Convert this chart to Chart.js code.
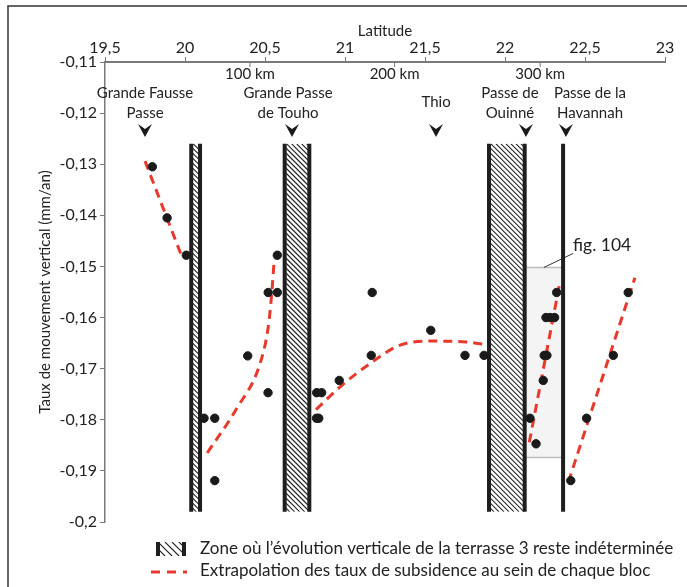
<!DOCTYPE html>
<html>
<head>
<meta charset="utf-8">
<script src="https://cdn.jsdelivr.net/npm/chart.js@4.4.1/dist/chart.umd.min.js"></script>
<style>
body { margin: 0; background: #fff; }
</style>
</head>
<body>
<canvas id="chart" width="687" height="587"></canvas>
<script>
// measured sites: latitude / vertical rate (mm/an)
var siteLat = [19.796, 19.888, 20.008, 20.119, 20.186, 20.186, 20.392, 20.519, 20.52, 20.577, 20.577,
  20.823, 20.854, 20.822, 20.836, 20.964, 21.164, 21.17, 21.536, 21.75, 21.869,
  22.156, 22.194, 22.239, 22.245, 22.262, 22.256, 22.281, 22.31, 22.323,
  22.411, 22.51, 22.677, 22.77];
var siteRate = [-0.1305, -0.1405, -0.1478, -0.1797, -0.1797, -0.1919, -0.1675, -0.1747, -0.1551, -0.1551, -0.1478,
  -0.1747, -0.1747, -0.1797, -0.1797, -0.1723, -0.1674, -0.1551, -0.1625, -0.1674, -0.1674,
  -0.1797, -0.1847, -0.1723, -0.1674, -0.1674, -0.16, -0.16, -0.16, -0.1551,
  -0.1919, -0.1797, -0.1674, -0.1551];

// extrapolation within each block
var extLat = [
  [19.75, 19.983],
  [20.139, 20.323, 20.469, 20.52, 20.542, 20.558],
  [20.819, 20.979, 21.156, 21.344, 21.55, 21.76, 21.864],
  [22.152, 22.339],
  [22.396, 22.812]
];
var extRate = [
  [-0.1294, -0.1483],
  [-0.1865, -0.1778, -0.169, -0.1619, -0.1553, -0.1485],
  [-0.178, -0.1733, -0.169, -0.1654, -0.1646, -0.1648, -0.1652],
  [-0.1844, -0.1538],
  [-0.1922, -0.1522]
];

// undetermined zones (hatched) and block limits
var zoneFrom = [20.039, 20.623, 21.9];
var zoneTo = [20.094, 20.777, 22.123];
var limitLat = [22.363];
var zoneRate = [-0.126, -0.198];

// fig. 104 inset
var insetLat = [22.123, 22.363];
var insetRate = [-0.1502, -0.1874];

// passes
var passNames = [["Grande Fausse", "Passe"], ["Grande Passe", "de Touho"], ["Thio"], ["Passe de", "Ouinné"], ["Passe de la", "Havannah"]];
var passLabelLat = [19.75, 20.644, 21.569, 22.031, 22.531];
var passArrowLat = [19.75, 20.669, 21.569, 22.131, 22.381];

// distance along coast
var kmLabels = ["100 km", "200 km", "300 km"];
var kmLat = [20.406, 21.31, 22.22];

var FONT = "Lato";
var RED = "#e8392d";
var AXIS = "#7a7a7a";

function comma(v) {
  return String(Math.round(v * 1000) / 1000).replace(".", ",");
}

function hatch(ctx, x0, y0, w, h, step) {
  ctx.save();
  ctx.beginPath();
  ctx.rect(x0, y0, w, h);
  ctx.clip();
  ctx.strokeStyle = "#222";
  ctx.lineWidth = 1.1;
  ctx.beginPath();
  for (var k = x0 - h; k < x0 + w; k += step) {
    ctx.moveTo(k, y0);
    ctx.lineTo(k + h, y0 + h);
  }
  ctx.stroke();
  ctx.restore();
}

function vline(ctx, x, y1, y2) {
  ctx.beginPath();
  ctx.moveTo(x, y1);
  ctx.lineTo(x, y2);
  ctx.stroke();
}

var decor = {
  id: "decor",
  beforeDatasetsDraw: function(chart) {
    var ctx = chart.ctx, sx = chart.scales.x, sy = chart.scales.y;
    ctx.save();
    // inset box
    var bx1 = sx.getPixelForValue(insetLat[0]), bx2 = sx.getPixelForValue(insetLat[1]);
    var by1 = sy.getPixelForValue(insetRate[0]), by2 = sy.getPixelForValue(insetRate[1]);
    ctx.fillStyle = "#f4f4f4";
    ctx.fillRect(bx1, by1, bx2 - bx1, by2 - by1);
    ctx.strokeStyle = "#bdbdbd";
    ctx.lineWidth = 1.5;
    ctx.beginPath();
    ctx.moveTo(bx1, by1); ctx.lineTo(bx2, by1);
    ctx.moveTo(bx1, by2); ctx.lineTo(bx2, by2);
    ctx.stroke();
    ctx.strokeStyle = "#333";
    ctx.lineWidth = 1;
    ctx.beginPath();
    ctx.moveTo((bx1 + bx2) / 2, by1);
    ctx.lineTo(bx2 + 10, by1 - 14);
    ctx.stroke();
    ctx.fillStyle = "#222";
    ctx.font = "17.5px " + FONT;
    ctx.textBaseline = "middle";
    ctx.textAlign = "left";
    ctx.fillText("fig. 104", bx2 + 10, by1 - 22);

    // hatched zones
    var top = sy.getPixelForValue(zoneRate[0]), bot = sy.getPixelForValue(zoneRate[1]);
    ctx.strokeStyle = "#1e1e1e";
    for (var i = 0; i < zoneFrom.length; i++) {
      var l = sx.getPixelForValue(zoneFrom[i]), r = sx.getPixelForValue(zoneTo[i]);
      hatch(ctx, l, top, r - l, bot - top, 5);
      ctx.strokeStyle = "#1e1e1e";
      ctx.lineWidth = 4;
      vline(ctx, l, top, bot);
      vline(ctx, r, top, bot);
    }
    for (var j = 0; j < limitLat.length; j++) {
      vline(ctx, sx.getPixelForValue(limitLat[j]), top, bot);
    }
    ctx.restore();
  },
  afterDraw: function(chart) {
    var ctx = chart.ctx, sx = chart.scales.x, area = chart.chartArea;
    ctx.save();
    // frame
    ctx.strokeStyle = "#333";
    ctx.lineWidth = 1.5;
    ctx.beginPath();
    ctx.moveTo(8, chart.height);
    ctx.lineTo(8, 6);
    ctx.lineTo(chart.width, 6);
    ctx.stroke();

    // km ticks under the axis
    ctx.strokeStyle = AXIS;
    ctx.lineWidth = 1;
    ctx.fillStyle = "#222";
    ctx.font = "15px " + FONT;
    ctx.textAlign = "center";
    ctx.textBaseline = "middle";
    for (var i = 0; i < kmLat.length; i++) {
      var kx = sx.getPixelForValue(kmLat[i]);
      vline(ctx, kx, area.top, area.top + 5);
      ctx.fillText(kmLabels[i], kx, area.top + 12);
    }

    // passes
    for (var p = 0; p < passNames.length; p++) {
      var lx = sx.getPixelForValue(passLabelLat[p]);
      var lines = passNames[p];
      for (var k = 0; k < lines.length; k++) {
        var ly = lines.length == 1 ? 102 : 93 + k * 20;
        ctx.fillText(lines[k], lx, ly);
      }
      var ax = sx.getPixelForValue(passArrowLat[p]);
      ctx.fillStyle = "#1a1a1a";
      ctx.beginPath();
      ctx.moveTo(ax - 7, 124);
      ctx.lineTo(ax, 129);
      ctx.lineTo(ax + 7, 124);
      ctx.lineTo(ax, 137);
      ctx.closePath();
      ctx.fill();
      ctx.fillStyle = "#222";
    }

    // legend
    hatch(ctx, 158, 542, 26, 14, 7);
    ctx.strokeStyle = "#1e1e1e";
    ctx.lineWidth = 4;
    vline(ctx, 158, 542, 556);
    vline(ctx, 184, 542, 556);
    ctx.strokeStyle = RED;
    ctx.lineWidth = 3;
    ctx.setLineDash([9, 7]);
    ctx.beginPath();
    ctx.moveTo(151, 572);
    ctx.lineTo(187, 572);
    ctx.stroke();
    ctx.setLineDash([]);
    ctx.fillStyle = "#222";
    ctx.font = "17px " + FONT;
    ctx.textAlign = "left";
    ctx.fillText("Zone où l\u2019évolution verticale de la terrasse 3 reste indéterminée", 200, 549);
    ctx.fillText("Extrapolation des taux de subsidence au sein de chaque bloc", 200, 571);
    ctx.restore();
  }
};

window.onload = init;

function init() {
  var datasets = [{
    label: "sites",
    data: siteLat.map(function(v, i) { return { x: v, y: siteRate[i] }; }),
    backgroundColor: "#1a1a1a",
    borderColor: "#1a1a1a",
    pointRadius: 4.2,
    showLine: false
  }];
  for (var s = 0; s < extLat.length; s++) {
    datasets.push({
      label: "extrapolation " + (s + 1),
      data: extLat[s].map(function(v, i) { return { x: v, y: extRate[s][i] }; }),
      borderColor: RED,
      borderWidth: 3,
      borderDash: [9, 6],
      pointRadius: 0,
      showLine: true,
      cubicInterpolationMode: "monotone"
    });
  }

  var ctx = document.getElementById("chart").getContext("2d");
  new Chart(ctx, {
    type: "scatter",
    data: { datasets: datasets },
    options: {
      responsive: false,
      animation: false,
      layout: { padding: { left: 0, right: 22, top: 0, bottom: 65 } },
      plugins: { legend: { display: false }, tooltip: { enabled: false } },
      scales: {
        x: {
          type: "linear",
          position: "top",
          min: 19.5,
          max: 23,
          afterFit: function(s) { s.height = 62; },
          border: { display: true, color: AXIS, width: 2 },
          grid: { display: true, drawOnChartArea: false, color: AXIS, tickLength: 5 },
          ticks: {
            stepSize: 0.5,
            padding: 0,
            color: "#222",
            font: { family: FONT, size: 16 },
            callback: function(v) { return comma(v); }
          },
          title: { display: true, text: "Latitude", color: "#222", font: { family: FONT, size: 15 }, padding: { top: 22, bottom: 0 } }
        },
        y: {
          type: "linear",
          min: -0.2,
          max: -0.11,
          afterFit: function(s) { s.width = 105; },
          border: { display: true, color: AXIS, width: 1.5 },
          grid: { display: true, drawOnChartArea: false, color: AXIS, tickLength: 5 },
          ticks: {
            stepSize: 0.01,
            padding: 3,
            color: "#222",
            font: { family: FONT, size: 16 },
            callback: function(v) { return comma(v); }
          },
          title: { display: true, text: "Taux de mouvement vertical (mm/an)", color: "#222", font: { family: FONT, size: 15 }, padding: { top: 36, bottom: 0 } }
        }
      }
    },
    plugins: [decor]
  });
}
</script>
</body>
</html>
